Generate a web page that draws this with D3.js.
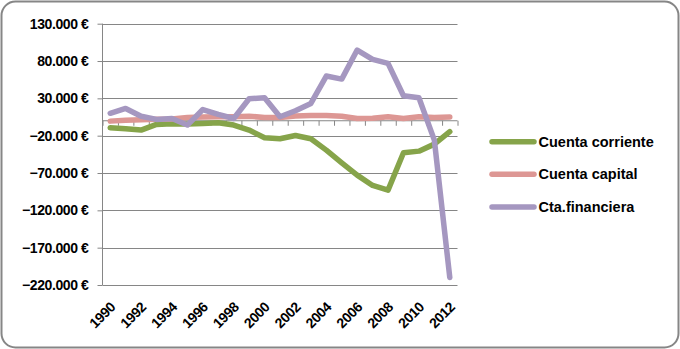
<!DOCTYPE html>
<html>
<head>
<meta charset="utf-8">
<script src="https://cdn.jsdelivr.net/npm/d3@7"></script>
<style>
  html, body { margin: 0; padding: 0; background: #fff; }
  svg text { font-family: "Liberation Sans", Arial, sans-serif; font-weight: bold; fill: #000; }
</style>
</head>
<body>
<svg id="chart" width="680" height="349"></svg>
<script>
// Balanza de pagos, 1990-2012 (millones de euros)
const years = d3.range(1990, 2013);
const cuentaCorriente = [-9400, -10700, -12500, -4900, -4000, -4500, -3600, -2700, -5800, -12500,
  -22800, -24100, -19700, -24100, -39300, -56300, -72800, -86700, -92900, -42900, -40700, -31300, -14700];
const cuentaCapital = [-500, 800, 1500, 2000, 2500, 4500, 5000, 5500, 5500, 6000,
  4500, 4500, 6500, 7000, 7000, 6000, 3000, 3500, 5500, 3000, 5500, 4500, 5000];
const ctaFinanciera = [10000, 16500, 6000, 1800, 3000, -5800, 15000, 8500, 3000, 29500,
  30800, 5400, 13400, 23200, 59900, 55800, 94700, 82200, 76800, 33500, 30800, -25900, -210000];
const yTicks = [-220000, -170000, -120000, -70000, -20000, 30000, 80000, 130000];
const xLabelYears = d3.range(1990, 2013, 2);

const series = [
  { name: "Cuenta corriente", values: cuentaCorriente, color: "#86a44a" },
  { name: "Cuenta capital", values: cuentaCapital, color: "#dd9794" },
  { name: "Cta.financiera", values: ctaFinanciera, color: "#a597c0" }
];

const svg = d3.select("#chart");
const plotLeft = 102.5, plotRight = 457.5, plotTop = 23.7, plotBottom = 285;

// outer frame
svg.append("rect")
  .attr("x", 1.5).attr("y", 1.5).attr("width", 677).attr("height", 346)
  .attr("rx", 14).attr("ry", 14)
  .attr("fill", "#fff").attr("stroke", "#868686").attr("stroke-width", 2);

const x = d3.scaleBand().domain(years).range([plotLeft, plotRight]);
const y = d3.scaleLinear().domain([-220000, 130000]).range([plotBottom, plotTop]);

const locale = d3.formatLocale({ decimal: ",", thousands: ".", grouping: [3], currency: ["", "\u00a0€"] });
const fmt = locale.format(",");

// value axis with outward ticks
const yAxis = d3.axisLeft(y).tickValues(yTicks).tickSize(5).tickPadding(9)
  .tickFormat(d => fmt(d) + " €");
const gy = svg.append("g").attr("transform", `translate(${plotLeft},0)`).call(yAxis);
gy.select(".domain").attr("stroke", "#868686").attr("d", `M0,${plotTop}V${plotBottom}`);
gy.selectAll(".tick line").attr("stroke", "#868686");
gy.selectAll(".tick text").style("font-size", "14px").style("letter-spacing", "-0.4px");

// horizontal gridlines
svg.append("g").selectAll("line").data(yTicks).join("line")
  .attr("x1", plotLeft).attr("x2", plotRight)
  .attr("y1", d => Math.round(y(d)) + 0.5).attr("y2", d => Math.round(y(d)) + 0.5)
  .attr("stroke", "#868686").attr("stroke-width", 1);

// category axis line at zero with tick marks between categories
const edge = d3.scaleLinear().domain([0, years.length]).range([plotLeft, plotRight]);
const gx = svg.append("g").attr("transform", `translate(0,${y(0)})`)
  .call(d3.axisBottom(edge).tickValues(d3.range(0, years.length + 1)).tickSize(5).tickFormat(""));
gx.select(".domain").attr("stroke", "#868686").attr("d", `M${plotLeft},0H${plotRight}`);
gx.selectAll(".tick line").attr("stroke", "#868686");

// rotated year labels below the plot
const gl = svg.append("g").attr("transform", `translate(0,${plotBottom})`)
  .call(d3.axisBottom(x).tickValues(xLabelYears).tickSize(0).tickPadding(0));
gl.select(".domain").remove();
gl.selectAll(".tick text")
  .style("font-size", "14px")
  .style("letter-spacing", "-0.4px")
  .attr("text-anchor", "end")
  .attr("dy", null)
  .attr("y", 0)
  .attr("transform", "translate(6,23) rotate(-45)");

// series lines
const line = d3.line()
  .x((d, i) => x(years[i]) + x.bandwidth() / 2)
  .y(d => y(d));

svg.append("g").selectAll("path").data(series).join("path")
  .attr("d", s => line(s.values))
  .attr("fill", "none")
  .attr("stroke", s => s.color)
  .attr("stroke-width", 5.5)
  .attr("stroke-linejoin", "round")
  .attr("stroke-linecap", "round");

// legend
const legendY = [141.7, 174.3, 207];
const lg = svg.append("g").selectAll("g").data(series).join("g")
  .attr("transform", (s, i) => `translate(492,${legendY[i]})`);
lg.append("line").attr("x1", 0).attr("x2", 42)
  .attr("stroke", s => s.color).attr("stroke-width", 5.5).attr("stroke-linecap", "round");
lg.append("text").attr("x", 46.5).attr("y", 5).style("font-size", "14.5px").text(s => s.name);
</script>
</body>
</html>
